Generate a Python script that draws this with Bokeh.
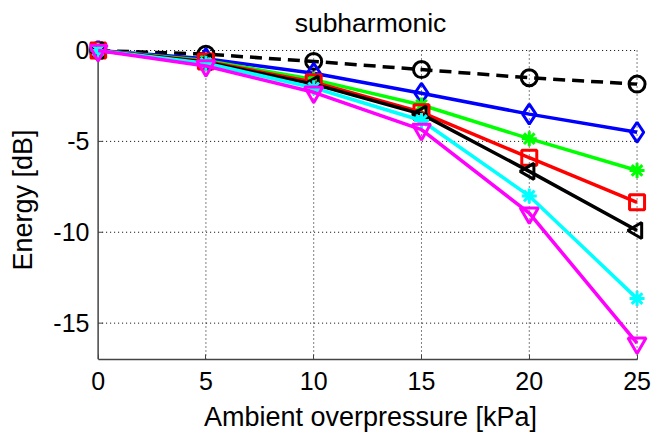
import math
from bokeh.plotting import figure
from bokeh.models import Range1d, FixedTicker
from bokeh.embed import file_html
from bokeh.resources import INLINE

# ---- data ----
pressure = [0, 5, 10, 15, 20, 25]
energy_circle = [0, -0.2, -0.6, -1.05, -1.5, -1.85]
energy_diamond = [0, -0.45, -1.25, -2.35, -3.5, -4.5]
energy_green = [0, -0.55, -1.6, -3.0, -4.85, -6.6]
energy_red = [0, -0.6, -1.75, -3.4, -5.9, -8.35]
energy_ltri = [0, -0.65, -1.85, -3.5, -6.65, -9.9]
energy_cyan = [0, -0.7, -2.05, -3.85, -8.0, -13.65]
energy_magenta = [0, -0.85, -2.3, -4.35, -8.95, -16.1]

x_ticks = [0, 5, 10, 15, 20, 25]
y_ticks = [-15, -10, -5, 0]
y_tick_labels = ["-15", "-10", "-5", "0"]
x_lim = (0, 25)
y_lim = (-17, 0)

FONT = "Liberation Sans"
AXIS_COLOR = "#444444"

p = figure(width=652, height=434, output_backend="svg", toolbar_location=None,
           x_range=Range1d(-0.40, 25.67), y_range=Range1d(-17, 0.55),
           min_border_left=89, min_border_right=1, min_border_top=40,
           min_border_bottom=75)
p.outline_line_color = None
p.background_fill_color = "white"
p.border_fill_color = "white"
p.xgrid.visible = False
p.ygrid.visible = False

p.title.text = "subharmonic"
p.title.align = "center"
p.title.text_font = FONT
p.title.text_font_size = "26.5px"
p.title.text_font_style = "normal"
p.title.text_color = "black"
p.title.standoff = 6

# dotted grid (incl. top/right box edges)
vx = [t for t in x_ticks if t != x_lim[0]]
p.segment(x0=vx, y0=[y_lim[0]] * len(vx), x1=vx, y1=[y_lim[1]] * len(vx),
          line_color="black", line_width=1, line_dash="1 3")
p.segment(x0=[x_lim[0]] * len(y_ticks), y0=y_ticks, x1=[x_lim[1]] * len(y_ticks), y1=y_ticks,
          line_color="black", line_width=1, line_dash="1 3")

# left axis line at x = 0 with inward ticks
p.segment(x0=[x_lim[0]], y0=[y_lim[0]], x1=[x_lim[0]], y1=[y_lim[1]],
          line_color=AXIS_COLOR, line_width=1.5)
p.segment(x0=[x_lim[0]] * len(y_ticks), y0=y_ticks,
          x1=[x_lim[0] + 0.23] * len(y_ticks), y1=y_ticks,
          line_color=AXIS_COLOR, line_width=1)

LW = 3.5
MLW = 3
series = [
    (energy_circle, "black", "circle", 16, 0, "dashed"),
    (energy_diamond, "#0000ff", "diamond", 20, 0, "solid"),
    (energy_green, "#00ff00", "asterisk", 15, 0, "solid"),
    (energy_red, "#ff0000", "square", 15, 0, "solid"),
    (energy_ltri, "black", "triangle", 16, math.pi / 2, "solid"),
    (energy_cyan, "#00ffff", "asterisk", 15, 0, "solid"),
    (energy_magenta, "#ff00ff", "inverted_triangle", 18, 0, "solid"),
]
for ys, col, mk, sz, ang, dash in series:
    p.line(pressure, ys, line_color=col, line_width=LW,
           line_dash="12 7" if dash == "dashed" else "solid")
    p.scatter(pressure, ys, marker=mk, size=sz, angle=ang, line_color=col,
              fill_color=None, line_width=MLW)

for ax, ticks, lim in ((p.xaxis, x_ticks, x_lim), (p.yaxis, y_ticks, y_lim)):
    ax.ticker = FixedTicker(ticks=ticks)
    ax.bounds = lim
    ax.axis_line_color = AXIS_COLOR
    ax.axis_line_width = 1.5
    ax.major_tick_in = 5
    ax.major_tick_out = 0
    ax.major_tick_line_color = AXIS_COLOR
    ax.minor_tick_in = 0
    ax.minor_tick_out = 0
    ax.major_label_text_font = FONT
    ax.major_label_text_font_size = "25px"
    ax.major_label_text_color = "black"
    ax.axis_label_text_font = FONT
    ax.axis_label_text_font_size = "27px"
    ax.axis_label_text_font_style = "normal"
    ax.axis_label_text_color = "black"

p.xaxis.axis_label = "Ambient overpressure [kPa]"
p.yaxis.axis_label = "Energy [dB]"
p.yaxis.major_label_overrides = dict(zip(y_ticks, y_tick_labels))
# y axis drawn manually at x = 0; keep only labels here
p.yaxis.axis_line_color = None
p.yaxis.major_tick_in = 0
p.yaxis.major_label_standoff = 0
p.yaxis.axis_label_standoff = 12
p.xaxis.major_label_standoff = 12
p.xaxis.axis_label_standoff = 9

open("out.html", "w").write(file_html(p, INLINE))
